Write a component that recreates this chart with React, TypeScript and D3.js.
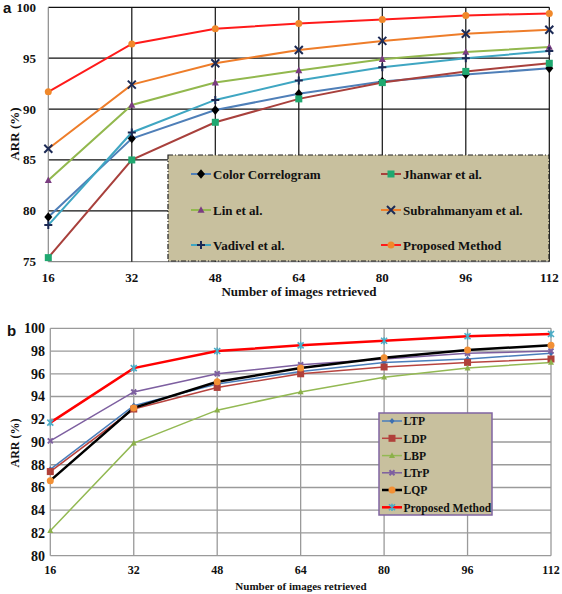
import React from "react";
import * as d3 from "d3";

const xValues = [16, 32, 48, 64, 80, 96, 112];

// Chart (a)
const aNames = ["Color Correlogram", "Jhanwar et al.", "Lin et al.", "Subrahmanyam et al.", "Vadivel et al.", "Proposed Method"];
const aColorCorrelogram = [79.4, 87.1, 89.9, 91.5, 92.7, 93.4, 94.0];
const aJhanwar = [75.4, 85.0, 88.7, 91.0, 92.6, 93.7, 94.5];
const aLin = [83.0, 90.4, 92.6, 93.8, 94.9, 95.6, 96.1];
const aSubrahmanyam = [86.1, 92.4, 94.5, 95.8, 96.7, 97.4, 97.8];
const aVadivel = [78.6, 87.7, 90.9, 92.8, 94.1, 95.0, 95.7];
const aProposed = [91.7, 96.4, 97.9, 98.4, 98.8, 99.2, 99.4];
const aYTicks = [75, 80, 85, 90, 95, 100];

// Chart (b)
const bNames = ["LTP", "LDP", "LBP", "LTrP", "LQP", "Proposed Method"];
const bLTP = [87.6, 93.2, 95.1, 96.2, 97.0, 97.3, 97.8];
const bLDP = [87.4, 92.9, 94.8, 96.0, 96.6, 97.0, 97.3];
const bLBP = [82.2, 89.9, 92.8, 94.4, 95.7, 96.5, 97.0];
const bLTrP = [90.1, 94.4, 96.0, 96.8, 97.3, 97.8, 98.0];
const bLQP = [86.6, 93.0, 95.3, 96.5, 97.4, 98.1, 98.5];
const bProposed = [91.7, 96.5, 98.0, 98.5, 98.9, 99.3, 99.5];
const bYTicks = [80, 82, 84, 86, 88, 90, 92, 94, 96, 98, 100];

const FONT = "'Liberation Serif', 'Times New Roman', serif";

type MarkerKind = "diamond" | "square" | "triangle" | "x" | "plus" | "circle" | "star";

function Marker({ kind, x, y, size, color }: { kind: MarkerKind; x: number; y: number; size: number; color: string }) {
  const s = size / 2;
  switch (kind) {
    case "diamond":
      return <path d={`M${x},${y - s * 1.2}L${x + s},${y}L${x},${y + s * 1.2}L${x - s},${y}Z`} fill={color} />;
    case "square":
      return <rect x={x - s} y={y - s} width={size} height={size} fill={color} />;
    case "triangle":
      return <path d={`M${x},${y - s * 1.1}L${x + s},${y + s * 0.8}L${x - s},${y + s * 0.8}Z`} fill={color} />;
    case "circle":
      return <circle cx={x} cy={y} r={s} fill={color} />;
    case "x":
      return (
        <path d={`M${x - s},${y - s}L${x + s},${y + s}M${x - s},${y + s}L${x + s},${y - s}`} stroke={color} strokeWidth={2} />
      );
    case "plus":
      return <path d={`M${x - s},${y}L${x + s},${y}M${x},${y - s}L${x},${y + s}`} stroke={color} strokeWidth={2} />;
    case "star":
      return (
        <path
          d={`M${x - s},${y - s}L${x + s},${y + s}M${x - s},${y + s}L${x + s},${y - s}M${x},${y - s * 1.2}L${x},${y + s * 1.2}`}
          stroke={color}
          strokeWidth={1.6}
        />
      );
  }
  return null;
}

type Series = { name: string; values: number[]; line: string; lw: number; marker: MarkerKind; mcolor: string; msize: number };

const aSeries: Series[] = [
  { name: aNames[0], values: aColorCorrelogram, line: "#4f7fb8", lw: 2, marker: "diamond", mcolor: "#000000", msize: 8 },
  { name: aNames[1], values: aJhanwar, line: "#a8403c", lw: 2, marker: "square", mcolor: "#1fa870", msize: 7 },
  { name: aNames[2], values: aLin, line: "#92b84e", lw: 2, marker: "triangle", mcolor: "#7a3c80", msize: 7 },
  { name: aNames[3], values: aSubrahmanyam, line: "#ee7d2a", lw: 2, marker: "x", mcolor: "#1c2a55", msize: 8 },
  { name: aNames[4], values: aVadivel, line: "#3fa6c2", lw: 2, marker: "plus", mcolor: "#1c2a55", msize: 8 },
  { name: aNames[5], values: aProposed, line: "#ff1a1a", lw: 2, marker: "circle", mcolor: "#f0882a", msize: 7 },
];

const bSeries: Series[] = [
  { name: bNames[0], values: bLTP, line: "#4a7ebb", lw: 1.5, marker: "diamond", mcolor: "#3d6fb0", msize: 5 },
  { name: bNames[1], values: bLDP, line: "#b8443f", lw: 1.5, marker: "square", mcolor: "#b0403a", msize: 7 },
  { name: bNames[2], values: bLBP, line: "#93b953", lw: 1.5, marker: "triangle", mcolor: "#8cb04a", msize: 6 },
  { name: bNames[3], values: bLTrP, line: "#7d5fa0", lw: 1.5, marker: "x", mcolor: "#7d5fa0", msize: 5 },
  { name: bNames[4], values: bLQP, line: "#000000", lw: 2.5, marker: "circle", mcolor: "#f29035", msize: 7 },
  { name: bNames[5], values: bProposed, line: "#ff0000", lw: 2.5, marker: "star", mcolor: "#4bacc6", msize: 6 },
];

function ChartA() {
  const x = d3.scaleLinear().domain([16, 112]).range([48.3, 549.3]);
  const y = d3.scaleLinear().domain([75, 100]).range([261.7, 7.3]);
  const line = d3
    .line<number>()
    .x((_, i) => x(xValues[i]))
    .y((d) => y(d));
  const legendRows = [174, 210, 245];
  const legendCols = [191, 381];
  return (
    <g>
      {aYTicks.map((t) => (
        <line key={"h" + t} x1={x(16)} x2={x(112)} y1={y(t)} y2={y(t)} stroke={t === 75 ? "#8a8a8a" : "#111"} strokeWidth={1.2} />
      ))}
      {xValues.map((t) => (
        <line key={"v" + t} x1={x(t)} x2={x(t)} y1={y(100)} y2={y(75)} stroke={t === 16 ? "#8a8a8a" : "#111"} strokeWidth={1.2} />
      ))}
      {aYTicks.map((t) => (
        <text key={"yl" + t} x={36} y={y(t) + 4.5} textAnchor="end" fontFamily={FONT} fontWeight="bold" fontSize={13} fill="#111">
          {t}
        </text>
      ))}
      {xValues.map((t) => (
        <text key={"xl" + t} x={x(t)} y={282} textAnchor="middle" fontFamily={FONT} fontWeight="bold" fontSize={13} fill="#111">
          {t}
        </text>
      ))}
      <text x={299} y={296} textAnchor="middle" fontFamily={FONT} fontWeight="bold" fontSize={13} fill="#111">
        Number of images retrieved
      </text>
      <text transform="translate(19,134) rotate(-90)" textAnchor="middle" fontFamily={FONT} fontWeight="bold" fontSize={13} fill="#111">
        ARR (%)
      </text>
      <text x={3} y={13} fontFamily="'Liberation Sans', Arial, sans-serif" fontWeight="bold" fontSize={15} fill="#111">
        a
      </text>
      {aSeries.map((s) => (
        <path key={"l" + s.name} d={line(s.values) || ""} fill="none" stroke={s.line} strokeWidth={s.lw} />
      ))}
      {aSeries.map((s) =>
        s.values.map((v, i) => <Marker key={s.name + i} kind={s.marker} x={x(xValues[i])} y={y(v)} size={s.msize} color={s.mcolor} />)
      )}
      <rect x={168} y={155} width={381} height={106} fill="#c8c09e" stroke="#222" strokeWidth={1.2} strokeDasharray="5,2,1,2" />
      {aSeries.map((s, i) => {
        const cx = legendCols[i % 2];
        const cy = legendRows[Math.floor(i / 2)];
        return (
          <g key={"lg" + s.name}>
            <line x1={cx} x2={cx + 20} y1={cy} y2={cy} stroke={s.line} strokeWidth={2} />
            <Marker kind={s.marker} x={cx + 10} y={cy} size={s.msize} color={s.mcolor} />
            <text x={cx + 22} y={cy + 4.5} fontFamily={FONT} fontWeight="bold" fontSize={13} fill="#111">
              {s.name}
            </text>
          </g>
        );
      })}
    </g>
  );
}

function ChartB() {
  const x = d3.scaleLinear().domain([16, 112]).range([50.3, 551]);
  const y = d3.scaleLinear().domain([80, 100]).range([555.7, 328.3]);
  const line = d3
    .line<number>()
    .x((_, i) => x(xValues[i]))
    .y((d) => y(d));
  const legendY = [421, 438.3, 455.6, 472.8, 490, 507.3];
  return (
    <g>
      {bYTicks.map((t) => (
        <line key={"h" + t} x1={x(16)} x2={x(112)} y1={y(t)} y2={y(t)} stroke="#9a9a9a" strokeWidth={1.3} />
      ))}
      {xValues.map((t) => (
        <line key={"v" + t} x1={x(t)} x2={x(t)} y1={y(100)} y2={y(80)} stroke="#9a9a9a" strokeWidth={1.3} />
      ))}
      {bYTicks.map((t) => (
        <text key={"yl" + t} x={45} y={y(t) + 4.8} textAnchor="end" fontFamily={FONT} fontWeight="bold" fontSize={14} fill="#111">
          {t}
        </text>
      ))}
      {xValues.map((t) => (
        <text key={"xl" + t} x={x(t)} y={574} textAnchor="middle" fontFamily={FONT} fontWeight="bold" fontSize={12} fill="#111">
          {t}
        </text>
      ))}
      <text x={301} y={590} textAnchor="middle" fontFamily={FONT} fontWeight="bold" fontSize={11} fill="#111">
        Number of images retrieved
      </text>
      <text transform="translate(19,443) rotate(-90)" textAnchor="middle" fontFamily={FONT} fontWeight="bold" fontSize={12} fill="#111">
        ARR (%)
      </text>
      <text x={7} y={336} fontFamily="'Liberation Sans', Arial, sans-serif" fontWeight="bold" fontSize={15} fill="#111">
        b
      </text>
      {bSeries.map((s) => (
        <path key={"l" + s.name} d={line(s.values) || ""} fill="none" stroke={s.line} strokeWidth={s.lw} />
      ))}
      {bSeries.map((s) =>
        s.values.map((v, i) => <Marker key={s.name + i} kind={s.marker} x={x(xValues[i])} y={y(v)} size={s.msize} color={s.mcolor} />)
      )}
      <rect x={379} y={413} width={113} height={102} fill="#c8c09e" stroke="#8064a2" strokeWidth={1.5} />
      {bSeries.map((s, i) => {
        const cy = legendY[i];
        return (
          <g key={"lg" + s.name}>
            <line x1={382} x2={402} y1={cy} y2={cy} stroke={s.line} strokeWidth={s.lw} />
            <Marker kind={s.marker} x={392} y={cy} size={s.msize} color={s.mcolor} />
            <text x={403.5} y={cy + 4.2} fontFamily={FONT} fontWeight="bold" fontSize={11.6} fill="#111">
              {s.name}
            </text>
          </g>
        );
      })}
    </g>
  );
}

export default function App() {
  return (
    <svg
      width={562}
      height={594}
      viewBox="0 0 562 594"
      style={{ position: "absolute", left: 0, top: 0, background: "#fff" }}
    >
      <ChartA />
      <ChartB />
    </svg>
  );
}
